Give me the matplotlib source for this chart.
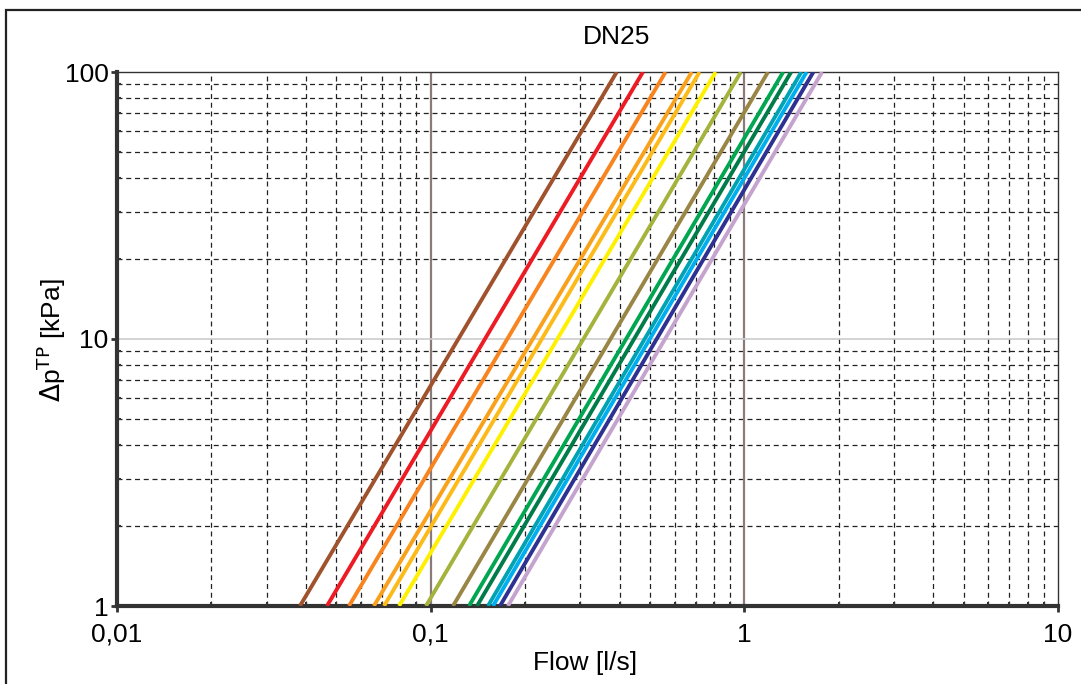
import numpy as np
import matplotlib.pyplot as plt
from matplotlib.ticker import FixedLocator, FixedFormatter, NullFormatter
from matplotlib.patches import Rectangle

plt.rc('font', family=['Liberation Sans', 'DejaVu Sans'])

# DATA (flow in l/s read at 1 kPa and at 100 kPa)
q_1kpa = [0.0383, 0.0467, 0.0549, 0.0659, 0.0710, 0.0793, 0.0966,
          0.1178, 0.1325, 0.1405, 0.1523, 0.158, 0.1663, 0.1763]
q_100kpa = [0.392, 0.475, 0.561, 0.68, 0.72, 0.81, 0.975,
            1.19, 1.33, 1.41, 1.52, 1.58, 1.66, 1.77]
dp_ends = [1, 100]
colors = ['#a0522d', '#ed1c24', '#f7841f', '#f9a11b', '#fdbb1a', '#fff000', '#a5b23c',
          '#998645', '#00a650', '#007b4a', '#00a3b4', '#00aeef', '#2e3192', '#c5a3cf']

x_ticks = [0.01, 0.1, 1, 10]
x_ticklabels = ['0,01', '0,1', '1', '10']
y_ticks = [1, 10, 100]
y_ticklabels = ['1', '10', '100']

# PLOT
W, H = 1081, 684
fig = plt.figure(figsize=(W / 100, H / 100), dpi=100)
ax = fig.add_axes([117 / W, 1 - 606 / H, (1058 - 117) / W, (606 - 72) / H])

fig.patches.append(Rectangle((6 / W, -0.05), 1.1, 1 - 10 / H + 0.05, transform=fig.transFigure,
                             fill=False, edgecolor='#222222', linewidth=1.6, zorder=0))

ax.set_xscale('log')
ax.set_yscale('log')
ax.set_xlim(0.01, 10)
ax.set_ylim(1, 100)

minor_x = [m * 10.0**e for e in (-2, -1, 0) for m in range(2, 10)]
minor_y = [m * 10.0**e for e in (0, 1) for m in range(2, 10)]
for v in minor_x:
    ax.axvline(v, color='#222222', lw=0.9, ls=(0, (4, 3)), zorder=1)
for v in minor_y:
    ax.axhline(v, color='#222222', lw=0.9, ls=(0, (4, 3)), zorder=1)
for v in (0.1, 1):
    ax.axvline(v, color='#8a7a7a', lw=1.6, zorder=1)
ax.axhline(10, color='#cccccc', lw=1.2, zorder=1)

for q0, q1, c in zip(q_1kpa, q_100kpa, colors):
    ax.plot([q0, q1], dp_ends, color=c, lw=2.8, solid_capstyle='butt', zorder=3)

ax.xaxis.set_major_locator(FixedLocator(x_ticks))
ax.xaxis.set_major_formatter(FixedFormatter(x_ticklabels))
ax.yaxis.set_major_locator(FixedLocator(y_ticks))
ax.yaxis.set_major_formatter(FixedFormatter(y_ticklabels))
ax.xaxis.set_minor_locator(FixedLocator(minor_x))
ax.yaxis.set_minor_locator(FixedLocator(minor_y))
ax.xaxis.set_minor_formatter(NullFormatter())
ax.yaxis.set_minor_formatter(NullFormatter())
ax.tick_params(which='major', length=4, width=2, color='#333333', labelsize=19)
ax.tick_params(axis='x', which='major', pad=8)
ax.tick_params(axis='y', which='major', pad=2)
ax.tick_params(which='minor', length=3, width=1.5, direction='in', color='#333333')

for s in ('left', 'bottom'):
    ax.spines[s].set_linewidth(3)
    ax.spines[s].set_color('#333333')
for s in ('top', 'right'):
    ax.spines[s].set_linewidth(1)
    ax.spines[s].set_color('#333333')

fig.text(617 / W, 1 - 37 / H, 'DN25', fontsize=19, ha='center', va='center')
fig.text(585 / W, 1 - 663 / H, 'Flow [l/s]', fontsize=19, ha='center', va='center')
fig.text(51 / W, 1 - 340 / H, r'$\Delta$p$^{\mathrm{TP}}$ [kPa]', fontsize=19,
         rotation=90, ha='center', va='center')

fig.savefig('out.png', dpi=100)
